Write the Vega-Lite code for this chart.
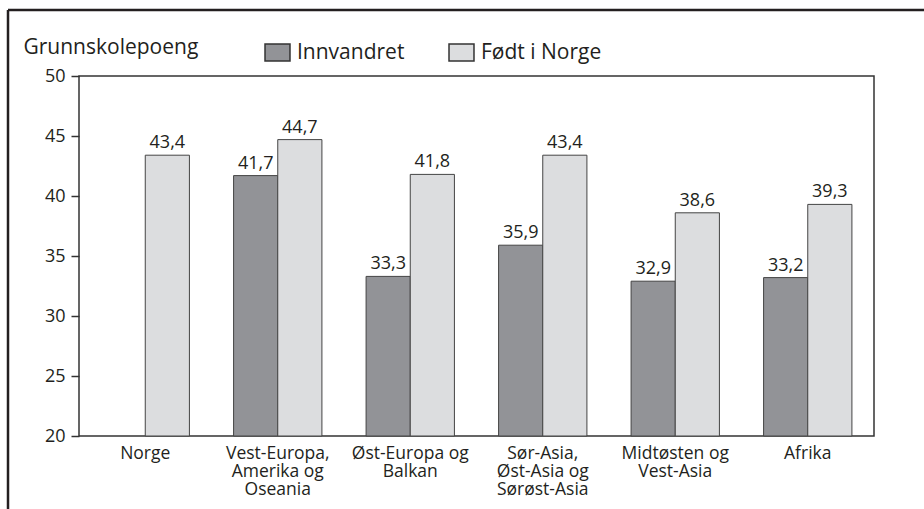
{
  "$schema": "https://vega.github.io/schema/vega-lite/v6.json",
  "width": 795,
  "height": 360,
  "autosize": {"type": "none"},
  "padding": {"left": 79, "top": 76, "right": 50, "bottom": 73},
  "background": "white",
  "config": {
    "font": "Open Sans",
    "locale": {"number": {"decimal": ",", "thousands": " ", "grouping": [3], "currency": ["", " kr"]}},
    "view": {"stroke": "#333333", "strokeWidth": 1.5},
    "axis": {"labelFont": "Open Sans", "titleFont": "Open Sans", "labelColor": "#231f20", "titleColor": "#231f20", "grid": false, "domain": false}
  },
  "layer": [
    {
      "data": {
        "values": [
          {"region": "Norge", "series": "Født i Norge", "value": 43.4},
          {"region": "Vest-Europa,|Amerika og|Oseania", "series": "Innvandret", "value": 41.7},
          {"region": "Vest-Europa,|Amerika og|Oseania", "series": "Født i Norge", "value": 44.7},
          {"region": "Øst-Europa og|Balkan", "series": "Innvandret", "value": 33.3},
          {"region": "Øst-Europa og|Balkan", "series": "Født i Norge", "value": 41.8},
          {"region": "Sør-Asia,|Øst-Asia og|Sørøst-Asia", "series": "Innvandret", "value": 35.9},
          {"region": "Sør-Asia,|Øst-Asia og|Sørøst-Asia", "series": "Født i Norge", "value": 43.4},
          {"region": "Midtøsten og|Vest-Asia", "series": "Innvandret", "value": 32.9},
          {"region": "Midtøsten og|Vest-Asia", "series": "Født i Norge", "value": 38.6},
          {"region": "Afrika", "series": "Innvandret", "value": 33.2},
          {"region": "Afrika", "series": "Født i Norge", "value": 39.3}
        ]
      },
      "encoding": {
        "x": {
          "field": "region", "type": "nominal", "sort": null,
          "scale": {"paddingInner": 0, "paddingOuter": 0},
          "axis": {"title": null, "labelExpr": "split(datum.label, '|')", "labelAngle": 0, "labelFontSize": 17.5, "labelLineHeight": 18, "labelPadding": 8, "ticks": false, "labelColor": "#231f20"}
        },
        "xOffset": {
          "field": "series", "type": "nominal", "sort": ["Innvandret", "Født i Norge"],
          "scale": {"domain": ["Innvandret", "Født i Norge"], "paddingInner": 0, "paddingOuter": 0.5}
        },
        "y": {
          "field": "value", "type": "quantitative",
          "scale": {"domain": [20, 50]},
          "axis": {"values": [20, 25, 30, 35, 40, 45, 50], "title": "Grunnskolepoeng", "titleAngle": 0, "titleAlign": "left", "titleBaseline": "alphabetic", "titleX": -56, "titleY": -23, "titleFontSize": 21, "titleFontWeight": "normal", "labelFontSize": 18, "tickSize": 8, "tickWidth": 1.5, "tickColor": "#333333", "labelPadding": 6}
        }
      },
      "layer": [
        {
          "mark": {"type": "bar", "stroke": "#444444", "strokeWidth": 1},
          "encoding": {
            "y2": {"datum": 20},
            "color": {
              "field": "series", "type": "nominal",
              "scale": {"domain": ["Innvandret", "Født i Norge"], "range": ["#929397", "#dcdddf"]},
              "legend": {"title": null, "orient": "none", "legendX": 188, "legendY": -34, "direction": "horizontal", "symbolType": "M-1.47,-1H1.47V1H-1.47Z", "symbolSize": 289, "symbolStrokeColor": "#333333", "symbolStrokeWidth": 1.5, "labelFontSize": 21, "labelFont": "Open Sans", "labelOffset": 9, "columnPadding": 41, "labelColor": "#231f20", "symbolOpacity": 1}
            }
          }
        },
        {
          "mark": {"type": "text", "dy": -7, "baseline": "alphabetic", "fontSize": 18, "color": "#231f20"},
          "encoding": {
            "text": {"field": "value", "type": "quantitative", "format": ".1f"}
          }
        }
      ]
    },
    {
      "data": {
        "values": [
          {"x1": -0.0893, "y1": 55.5, "x2": -0.0893, "y2": 12},
          {"x1": -0.0893, "y1": 55.5, "x2": 1.2, "y2": 55.5}
        ]
      },
      "mark": {"type": "rule", "color": "#231f20", "strokeWidth": 2.5},
      "encoding": {
        "x": {"field": "x1", "type": "quantitative", "scale": {"domain": [0, 1]}, "axis": null},
        "x2": {"field": "x2"},
        "y": {"field": "y1", "type": "quantitative", "scale": {"domain": [20, 50]}, "title": "Grunnskolepoeng"},
        "y2": {"field": "y2"}
      }
    }
  ],
  "resolve": {"scale": {"x": "independent"}, "axis": {"x": "independent"}}
}
